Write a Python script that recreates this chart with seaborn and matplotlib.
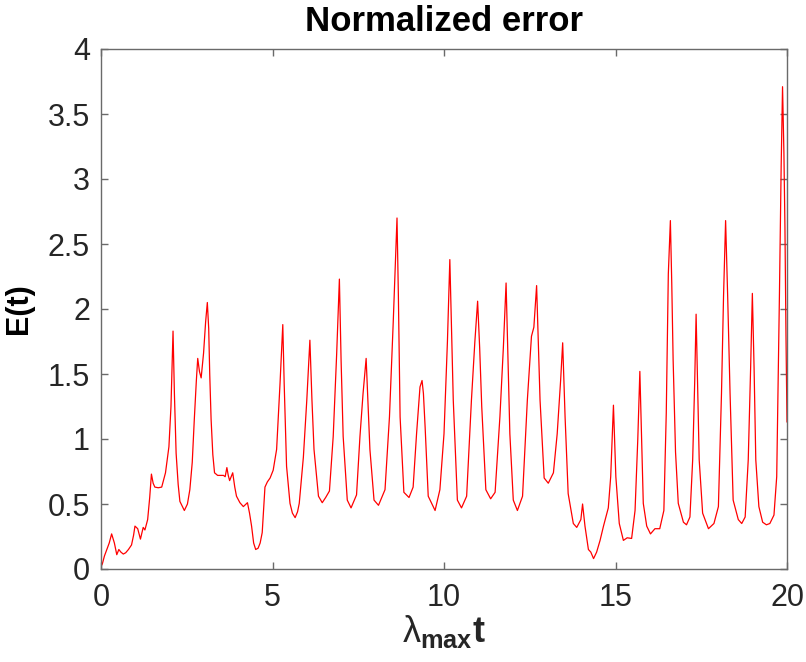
import matplotlib
matplotlib.use("Agg")
import matplotlib.pyplot as plt
import seaborn as sns
import pandas as pd

t_vals = [0.00, 0.04, 0.10, 0.17, 0.24, 0.31, 0.39, 0.46, 0.52, 0.58, 0.65, 0.72, 0.80, 0.89, 0.95,
          0.99, 1.07, 1.15, 1.23, 1.28, 1.36, 1.42, 1.47, 1.52, 1.57, 1.67, 1.77, 1.88, 1.98, 2.04,
          2.10, 2.14, 2.19, 2.25, 2.30, 2.43, 2.52, 2.59, 2.66, 2.72, 2.78, 2.82, 2.87, 2.92, 2.99,
          3.05, 3.10, 3.14, 3.17, 3.21, 3.26, 3.31, 3.40, 3.50, 3.57, 3.62, 3.67, 3.71, 3.75, 3.84,
          3.90, 3.95, 4.05, 4.15, 4.27, 4.33, 4.39, 4.45, 4.51, 4.58, 4.64, 4.70, 4.74, 4.78, 4.85,
          4.93, 5.02, 5.12, 5.22, 5.30, 5.34, 5.41, 5.51, 5.58, 5.66, 5.73, 5.78, 5.90, 6.00, 6.09,
          6.15, 6.21, 6.34, 6.45, 6.55, 6.66, 6.77, 6.87, 6.95, 7.00, 7.06, 7.18, 7.29, 7.45, 7.55,
          7.64, 7.73, 7.78, 7.84, 7.96, 8.09, 8.28, 8.41, 8.52, 8.63, 8.67, 8.72, 8.83, 8.98, 9.10,
          9.20, 9.30, 9.36, 9.40, 9.45, 9.54, 9.74, 9.88, 10.00, 10.10, 10.17, 10.22, 10.27, 10.39,
          10.51, 10.66, 10.80, 10.90, 10.98, 11.04, 11.10, 11.22, 11.36, 11.49, 11.63, 11.73, 11.81,
          11.87, 11.92, 12.02, 12.14, 12.29, 12.43, 12.55, 12.62, 12.70, 12.75, 12.80, 12.92, 13.04,
          13.19, 13.30, 13.40, 13.46, 13.50, 13.53, 13.62, 13.77, 13.87, 13.99, 14.04, 14.11, 14.21,
          14.28, 14.36, 14.45, 14.55, 14.65, 14.79, 14.86, 14.94, 15.01, 15.11, 15.23, 15.34, 15.47,
          15.57, 15.65, 15.71, 15.76, 15.81, 15.91, 16.02, 16.15, 16.29, 16.41, 16.48, 16.54, 16.60,
          16.64, 16.68, 16.75, 16.83, 16.98, 17.07, 17.17, 17.25, 17.31, 17.35, 17.39, 17.44, 17.54,
          17.71, 17.87, 18.00, 18.09, 18.15, 18.21, 18.27, 18.34, 18.43, 18.58, 18.68, 18.78, 18.87,
          18.94, 18.99, 19.04, 19.09, 19.18, 19.29, 19.40, 19.50, 19.62, 19.70, 19.78, 19.83, 19.87,
          19.91, 19.94, 19.97, 20.00]
e_vals = [0.02, 0.04, 0.10, 0.15, 0.20, 0.27, 0.20, 0.11, 0.15, 0.13, 0.115, 0.125, 0.15, 0.185, 0.26,
          0.33, 0.31, 0.23, 0.32, 0.30, 0.38, 0.55, 0.73, 0.66, 0.63, 0.625, 0.63, 0.74, 0.94, 1.25,
          1.83, 1.35, 0.89, 0.65, 0.52, 0.45, 0.50, 0.61, 0.82, 1.15, 1.45, 1.62, 1.52, 1.47, 1.66,
          1.90, 2.05, 1.85, 1.50, 1.15, 0.88, 0.74, 0.72, 0.72, 0.72, 0.71, 0.78, 0.72, 0.68, 0.74,
          0.63, 0.56, 0.51, 0.48, 0.51, 0.43, 0.33, 0.20, 0.15, 0.16, 0.20, 0.28, 0.45, 0.63, 0.67,
          0.70, 0.76, 0.92, 1.43, 1.88, 1.43, 0.79, 0.505, 0.43, 0.395, 0.44, 0.505, 0.86, 1.30, 1.76,
          1.30, 0.92, 0.56, 0.51, 0.55, 0.60, 1.02, 1.65, 2.23, 1.60, 1.02, 0.53, 0.47, 0.57, 1.02,
          1.35, 1.62, 1.30, 0.92, 0.53, 0.49, 0.61, 1.17, 1.90, 2.70, 2.10, 1.17, 0.59, 0.55, 0.63,
          1.04, 1.40, 1.45, 1.35, 1.09, 0.56, 0.45, 0.61, 1.04, 1.75, 2.38, 1.85, 1.30, 0.53,
          0.47, 0.56, 1.30, 1.75, 2.06, 1.70, 1.25, 0.61, 0.54, 0.59, 1.17, 1.70, 2.20,
          1.55, 1.04, 0.53, 0.45, 0.56, 1.30, 1.79, 1.86, 2.18, 1.75, 1.30, 0.70, 0.66,
          0.74, 1.04, 1.45, 1.74, 1.40, 1.17, 0.58, 0.35, 0.32, 0.38, 0.50, 0.33, 0.15,
          0.13, 0.08, 0.13, 0.22, 0.33, 0.47, 0.71, 1.26, 0.71, 0.35, 0.22, 0.24, 0.235,
          0.45, 1.00, 1.52, 1.00, 0.505, 0.33, 0.27, 0.31, 0.31, 0.45, 1.20, 2.27, 2.68,
          2.20, 1.61, 0.90, 0.505, 0.36, 0.34, 0.40, 0.84, 1.45, 1.96, 1.45, 0.84, 0.43,
          0.31, 0.35, 0.48, 1.35, 2.10, 2.68, 2.10, 1.35, 0.53, 0.38, 0.35, 0.40, 0.84,
          1.55, 2.12, 1.55, 0.84, 0.48, 0.36, 0.34, 0.35, 0.415, 0.71, 2.12, 3.10, 3.71,
          3.20, 2.63, 1.80, 1.13]

x_ticks = [0, 5, 10, 15, 20]
y_ticks = [0, 0.5, 1, 1.5, 2, 2.5, 3, 3.5, 4]
y_tick_labels = ['0', '0.5', '1', '1.5', '2', '2.5', '3', '3.5', '4']
title_text = "Normalized error"
ylabel_text = "E(t)"
xlabel_text = r"$\mathrm{\lambda}_{\mathbf{max}}\mathbf{t}$"

sns.set_style("white")
plt.rcParams['font.family'] = ['Liberation Sans', 'DejaVu Sans']
plt.rcParams['mathtext.fontset'] = 'custom'
plt.rcParams['mathtext.rm'] = 'Liberation Sans'
plt.rcParams['mathtext.bf'] = 'Liberation Sans:bold'
plt.rcParams['mathtext.it'] = 'Liberation Sans:italic'

df = pd.DataFrame({"t": t_vals, "E": e_vals})

fig = plt.figure(figsize=(8.06, 6.62), dpi=100)
ax = fig.add_axes([101 / 806, 1 - 569 / 662, 686 / 806, 520 / 662])
sns.lineplot(data=df, x="t", y="E", ax=ax, color="#ff0000", linewidth=0.9, sort=False)

ax.set_xlim(0, 20)
ax.set_ylim(0, 4)
ax.set_xticks(x_ticks)
ax.set_xticklabels([str(v) for v in x_ticks])
ax.set_yticks(y_ticks)
ax.set_yticklabels(y_tick_labels)

spine_col = "#6a6a6a"
for s in ax.spines.values():
    s.set_visible(True)
    s.set_color(spine_col)
    s.set_linewidth(1.0)

ax.tick_params(axis="both", which="both", direction="in", length=5, width=1.0,
               color=spine_col, labelsize=22, labelcolor="#262626",
               top=True, right=True, bottom=True, left=True)
ax.tick_params(axis="x", pad=10)
ax.tick_params(axis="y", pad=8)

ax.set_title(title_text, fontsize=25, fontweight="bold", color="black", pad=13)
ax.set_ylabel(ylabel_text, fontsize=22, fontweight="bold", color="black", labelpad=10)
ax.set_xlabel(xlabel_text, fontsize=26, color="#262626", labelpad=0)

fig.savefig("out.png", dpi=100)
